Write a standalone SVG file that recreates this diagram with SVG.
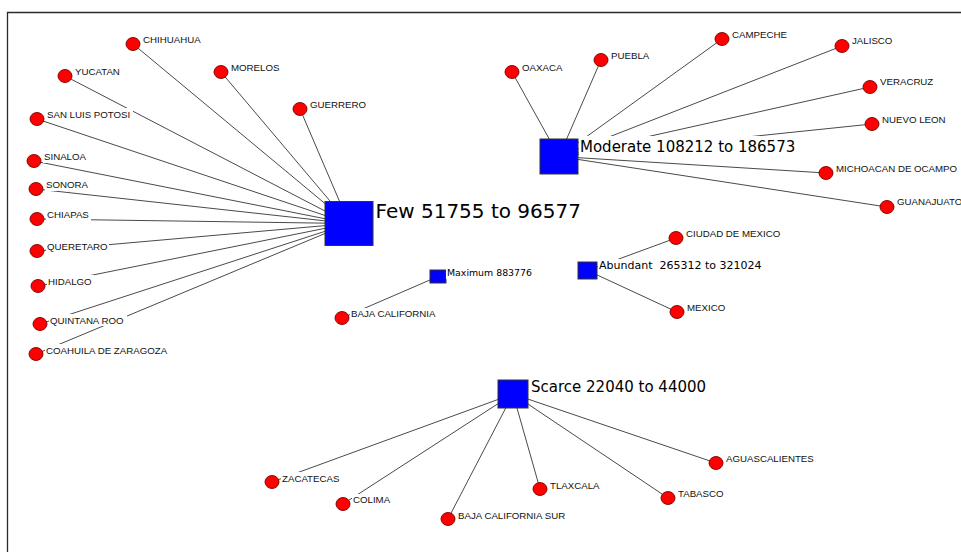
<svg xmlns="http://www.w3.org/2000/svg" width="961" height="552" viewBox="0 0 961 552">
  <style>
    .frame { fill: none; stroke: #2a2a2a; stroke-width: 1.3; }
    .edge { stroke: #4a4a4a; stroke-width: 1; fill: none; }
    .state { fill: #ff0000; stroke: #7a0000; stroke-width: 0.9; }
    .class { fill: #0000ff; stroke: #333; stroke-width: 1; }
    .bg { fill: #ffffff; }
    .lbl { font-family: "Liberation Sans", Arial, sans-serif; font-size: 9.7px; fill: #111; }
    .cls { font-family: "DejaVu Sans", Verdana, sans-serif; fill: #000; }
  </style>
  <rect width="961" height="552" fill="#ffffff"/>
  <path class="frame" d="M7.5,552 V12.5 H961"/>

  <!-- connectors: each state joined to the centre of its class -->
  <g id="connectors" class="edge">
    <!-- Few 51755 to 96577 -->
    <line x1="133" y1="44" x2="349" y2="223.5"/>
    <line x1="65" y1="76" x2="349" y2="223.5"/>
    <line x1="221" y1="72" x2="349" y2="223.5"/>
    <line x1="300" y1="109" x2="349" y2="223.5"/>
    <line x1="37" y1="119" x2="349" y2="223.5"/>
    <line x1="34" y1="161" x2="349" y2="223.5"/>
    <line x1="36" y1="189" x2="349" y2="223.5"/>
    <line x1="37" y1="219" x2="349" y2="223.5"/>
    <line x1="37" y1="251" x2="349" y2="223.5"/>
    <line x1="38" y1="286" x2="349" y2="223.5"/>
    <line x1="40" y1="324" x2="349" y2="223.5"/>
    <line x1="36" y1="354" x2="349" y2="223.5"/>
    <!-- Moderate 108212 to 186573 -->
    <line x1="512" y1="72" x2="559" y2="156.5"/>
    <line x1="601" y1="60" x2="559" y2="156.5"/>
    <line x1="722" y1="39" x2="559" y2="156.5"/>
    <line x1="842" y1="46" x2="559" y2="156.5"/>
    <line x1="870" y1="87" x2="559" y2="156.5"/>
    <line x1="872" y1="124" x2="559" y2="156.5"/>
    <line x1="826" y1="173" x2="559" y2="156.5"/>
    <line x1="887" y1="207" x2="559" y2="156.5"/>
    <!-- Abundant -->
    <line x1="676" y1="238" x2="587.5" y2="270.5"/>
    <line x1="677" y1="312" x2="587.5" y2="270.5"/>
    <!-- Maximum -->
    <line x1="342" y1="318" x2="438" y2="276.5"/>
    <!-- Scarce -->
    <line x1="272" y1="482" x2="513" y2="394"/>
    <line x1="343" y1="504" x2="513" y2="394"/>
    <line x1="448" y1="519" x2="513" y2="394"/>
    <line x1="540" y1="489" x2="513" y2="394"/>
    <line x1="668" y1="498" x2="513" y2="394"/>
    <line x1="716" y1="463" x2="513" y2="394"/>
  </g>

  <!-- class nodes -->
  <g id="few">
    <rect class="class" x="325" y="201.5" width="48" height="44"/>
    <rect class="bg" x="375" y="197" width="211" height="26"/>
    <text class="cls" x="375.5" y="218" font-size="20">Few 51755 to 96577</text>
  </g>
  <g id="moderate">
    <rect class="class" x="540" y="139" width="38" height="35"/>
    <rect class="bg" x="579" y="136" width="221" height="20"/>
    <text class="cls" x="580" y="152" font-size="15">Moderate 108212 to 186573</text>
  </g>
  <g id="abundant">
    <rect class="class" x="578" y="262" width="19" height="17"/>
    <rect class="bg" x="598" y="259" width="166" height="14"/>
    <text class="cls" x="599" y="269" font-size="11" xml:space="preserve">Abundant  265312 to 321024</text>
  </g>
  <g id="maximum">
    <rect class="class" x="430" y="270" width="16" height="13"/>
    <rect class="bg" x="446" y="268" width="89" height="11"/>
    <text class="cls" x="447" y="276" font-size="9.4">Maximum 883776</text>
  </g>
  <g id="scarce">
    <rect class="class" x="498" y="380" width="30" height="28"/>
    <rect class="bg" x="530" y="377" width="178" height="19"/>
    <text class="cls" x="531" y="392" font-size="15">Scarce 22040 to 44000</text>
  </g>

  <!-- state nodes -->
  <g id="chihuahua"><ellipse class="state" cx="133" cy="44" rx="7" ry="6.5"/><rect class="bg" x="142" y="34" width="60" height="12"/><text class="lbl" x="143" y="43">CHIHUAHUA</text></g>
  <g id="yucatan"><ellipse class="state" cx="65" cy="76" rx="7" ry="6.5"/><rect class="bg" x="74" y="66" width="49" height="12"/><text class="lbl" x="75" y="75">YUCATAN</text></g>
  <g id="morelos"><ellipse class="state" cx="221" cy="72" rx="7" ry="6.5"/><rect class="bg" x="230" y="62" width="51" height="12"/><text class="lbl" x="231" y="71">MORELOS</text></g>
  <g id="guerrero"><ellipse class="state" cx="300" cy="109" rx="7" ry="6.5"/><rect class="bg" x="309" y="99" width="58" height="12"/><text class="lbl" x="310" y="108">GUERRERO</text></g>
  <g id="san-luis-potosi"><ellipse class="state" cx="37" cy="119" rx="7" ry="6.5"/><rect class="bg" x="46" y="108" width="87" height="13"/><text class="lbl" x="47" y="118">SAN LUIS POTOSI</text></g>
  <g id="sinaloa"><ellipse class="state" cx="34" cy="161" rx="7" ry="6.5"/><rect class="bg" x="43" y="151" width="45" height="12"/><text class="lbl" x="44" y="160">SINALOA</text></g>
  <g id="sonora"><ellipse class="state" cx="36" cy="189" rx="7" ry="6.5"/><rect class="bg" x="45" y="179" width="45" height="12"/><text class="lbl" x="46" y="188">SONORA</text></g>
  <g id="chiapas"><ellipse class="state" cx="37" cy="219" rx="7" ry="6.5"/><rect class="bg" x="46" y="209" width="45" height="12"/><text class="lbl" x="47" y="218">CHIAPAS</text></g>
  <g id="queretaro"><ellipse class="state" cx="37" cy="251" rx="7" ry="6.5"/><rect class="bg" x="46" y="241" width="63" height="12"/><text class="lbl" x="47" y="250">QUERETARO</text></g>
  <g id="hidalgo"><ellipse class="state" cx="38" cy="286" rx="7" ry="6.5"/><rect class="bg" x="47" y="275" width="47" height="13"/><text class="lbl" x="48" y="285">HIDALGO</text></g>
  <g id="quintana-roo"><ellipse class="state" cx="40" cy="324" rx="7" ry="6.5"/><rect class="bg" x="49" y="314" width="78" height="12"/><text class="lbl" x="50" y="324">QUINTANA ROO</text></g>
  <g id="coahuila"><ellipse class="state" cx="36" cy="354" rx="7" ry="6.5"/><rect class="bg" x="45" y="344" width="125" height="12"/><text class="lbl" x="46" y="354">COAHUILA DE ZARAGOZA</text></g>
  <g id="baja-california"><ellipse class="state" cx="342" cy="318" rx="7" ry="6.5"/><rect class="bg" x="350" y="308" width="88" height="12"/><text class="lbl" x="351" y="317">BAJA CALIFORNIA</text></g>

  <g id="oaxaca"><ellipse class="state" cx="512" cy="72" rx="7" ry="6.5"/><rect class="bg" x="521" y="62" width="43" height="12"/><text class="lbl" x="522" y="71">OAXACA</text></g>
  <g id="puebla"><ellipse class="state" cx="601" cy="60" rx="7" ry="6.5"/><rect class="bg" x="610" y="50" width="41" height="12"/><text class="lbl" x="611" y="59">PUEBLA</text></g>
  <g id="campeche"><ellipse class="state" cx="722" cy="39" rx="7" ry="6.5"/><rect class="bg" x="731" y="29" width="58" height="12"/><text class="lbl" x="732" y="38">CAMPECHE</text></g>
  <g id="jalisco"><ellipse class="state" cx="842" cy="46" rx="7" ry="6.5"/><rect class="bg" x="851" y="35" width="43" height="12"/><text class="lbl" x="852" y="44">JALISCO</text></g>
  <g id="veracruz"><ellipse class="state" cx="870" cy="87" rx="7" ry="6.5"/><rect class="bg" x="879" y="76" width="56" height="12"/><text class="lbl" x="880" y="85">VERACRUZ</text></g>
  <g id="nuevo-leon"><ellipse class="state" cx="872" cy="124" rx="7" ry="6.5"/><rect class="bg" x="881" y="114" width="66" height="12"/><text class="lbl" x="882" y="123">NUEVO LEON</text></g>
  <g id="michoacan"><ellipse class="state" cx="826" cy="173" rx="7" ry="6.5"/><rect class="bg" x="835" y="163" width="124" height="12"/><text class="lbl" x="836" y="172">MICHOACAN DE OCAMPO</text></g>
  <g id="guanajuato"><ellipse class="state" cx="887" cy="207" rx="7" ry="6.5"/><rect class="bg" x="896" y="196" width="65" height="12"/><text class="lbl" x="897" y="205">GUANAJUATO</text></g>

  <g id="ciudad-de-mexico"><ellipse class="state" cx="676" cy="238" rx="7" ry="6.5"/><rect class="bg" x="685" y="228" width="97" height="12"/><text class="lbl" x="686" y="237">CIUDAD DE MEXICO</text></g>
  <g id="mexico"><ellipse class="state" cx="677" cy="312" rx="7" ry="6.5"/><rect class="bg" x="686" y="302" width="41" height="12"/><text class="lbl" x="687" y="311">MEXICO</text></g>

  <g id="zacatecas"><ellipse class="state" cx="272" cy="482" rx="7" ry="6.5"/><rect class="bg" x="281" y="472" width="61" height="12"/><text class="lbl" x="282" y="482">ZACATECAS</text></g>
  <g id="colima"><ellipse class="state" cx="343" cy="504" rx="7" ry="6.5"/><rect class="bg" x="352" y="494" width="40" height="12"/><text class="lbl" x="353" y="503">COLIMA</text></g>
  <g id="baja-california-sur"><ellipse class="state" cx="448" cy="519" rx="7" ry="6.5"/><rect class="bg" x="457" y="509" width="111" height="12"/><text class="lbl" x="458" y="519">BAJA CALIFORNIA SUR</text></g>
  <g id="tlaxcala"><ellipse class="state" cx="540" cy="489" rx="7" ry="6.5"/><rect class="bg" x="549" y="479" width="52" height="12"/><text class="lbl" x="550" y="489">TLAXCALA</text></g>
  <g id="tabasco"><ellipse class="state" cx="668" cy="498" rx="7" ry="6.5"/><rect class="bg" x="677" y="487" width="49" height="12"/><text class="lbl" x="678" y="497">TABASCO</text></g>
  <g id="aguascalientes"><ellipse class="state" cx="716" cy="463" rx="7" ry="6.5"/><rect class="bg" x="725" y="452" width="90" height="12"/><text class="lbl" x="726" y="462">AGUASCALIENTES</text></g>
</svg>
